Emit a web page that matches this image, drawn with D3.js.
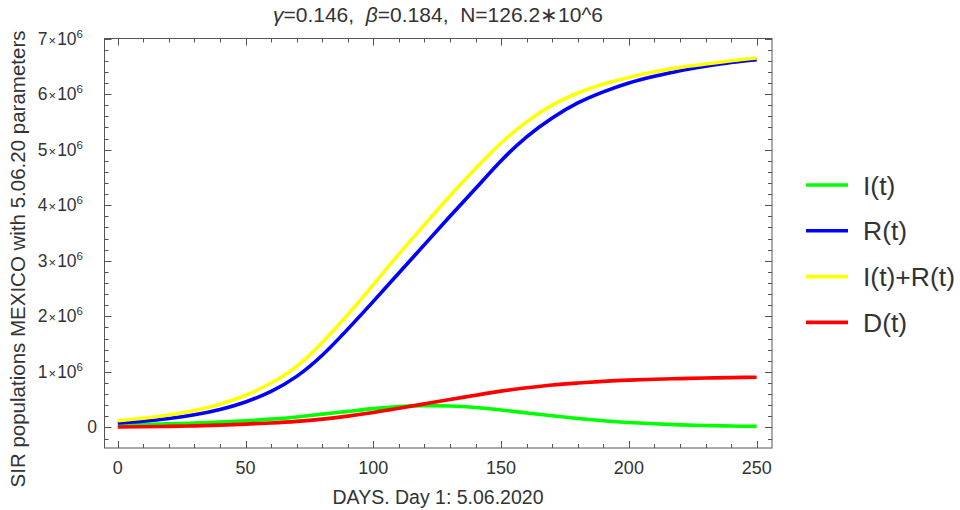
<!DOCTYPE html>
<html>
<head>
<meta charset="utf-8">
<script src="https://cdn.jsdelivr.net/npm/d3@7"></script>
<style>
  html, body { margin: 0; padding: 0; background: #fff; }
  svg { display: block; }
  text { font-family: "Liberation Sans", Arial, sans-serif; fill: #333; }
</style>
</head>
<body>
<svg id="chart" width="960" height="510"></svg>
<script>
// Days sampled every 10 days
const days = [0,10,20,30,40,50,60,70,80,90,100,110,120,130,140,150,160,170,180,190,200,210,220,230,240,250];

// Infected I(t), in millions
const infected = [0.045,0.055,0.066,0.08,0.097,0.12,0.15,0.19,0.24,0.29,0.34,0.375,0.393,0.387,0.36,0.315,0.262,0.21,0.163,0.122,0.09,0.066,0.048,0.035,0.026,0.02];
// Recovered R(t), in millions
const recovered = [0.08,0.113,0.161,0.229,0.325,0.46,0.65,0.92,1.30,1.77,2.27,2.78,3.29,3.80,4.30,4.80,5.23,5.57,5.84,6.04,6.20,6.32,6.42,6.50,6.57,6.62];
// I(t)+R(t), in millions
const infPlusRec = [0.12,0.165,0.225,0.305,0.42,0.58,0.80,1.10,1.53,2.03,2.57,3.12,3.65,4.17,4.66,5.12,5.50,5.80,6.02,6.18,6.30,6.40,6.48,6.54,6.60,6.65];
// Deaths D(t), in millions
const deaths = [0.008,0.013,0.02,0.03,0.043,0.06,0.082,0.11,0.15,0.205,0.27,0.345,0.425,0.505,0.58,0.655,0.715,0.765,0.80,0.83,0.852,0.868,0.88,0.89,0.898,0.905];

const seriesNames = ["I(t)", "R(t)", "I(t)+R(t)", "D(t)"];
const seriesColors = ["#00ff00", "#0000ff", "#ffff00", "#ff0000"];
const seriesValues = [infected, recovered, infPlusRec, deaths];

const xMajorTicks = [0, 50, 100, 150, 200, 250];
const yMajorTicks = [0, 1, 2, 3, 4, 5, 6, 7];

const titleText = ["γ", "=0.146,  ", "β", "=0.184,  N=126.2∗10^6"];
const xLabel = "DAYS. Day 1: 5.06.2020";
const yLabel = "SIR populations MEXICO with 5.06.20 parameters";

const svg = d3.select("#chart");
const frameL = 104.5, frameR = 772, frameT = 38.5, frameB = 448;

const x = d3.scaleLinear().domain([-5.2, 256]).range([frameL, frameR]);
const y = d3.scaleLinear().domain([-0.369, 7]).range([frameB, frameT]);

const frameColor = "#555";

// Curves
const line = d3.line()
  .x((d, i) => x(days[i]))
  .y(d => y(d))
  .curve(d3.curveNatural);

const plot = svg.append("g");
seriesValues.forEach((vals, k) => {
  plot.append("path")
    .datum(vals)
    .attr("d", line)
    .attr("fill", "none")
    .attr("stroke", seriesColors[k])
    .attr("stroke-width", 3.6)
    .attr("stroke-linejoin", "round");
});

// Frame
svg.append("rect")
  .attr("x", frameL).attr("y", frameT)
  .attr("width", frameR - frameL).attr("height", frameB - frameT)
  .attr("fill", "none").attr("stroke", frameColor).attr("stroke-width", 1);

// Ticks on all four sides, pointing inward
const xMinor = d3.range(0, 251, 10);
const yMinor = d3.range(-0.2, 7.01, 0.2).map(v => Math.round(v * 10) / 10);
const ticks = svg.append("g").attr("stroke", frameColor).attr("stroke-width", 1);
xMinor.forEach(t => {
  const len = xMajorTicks.includes(t) ? 7 : 4;
  const px = Math.round(x(t)) + 0.5;
  ticks.append("line").attr("x1", px).attr("x2", px).attr("y1", frameB).attr("y2", frameB - len);
  ticks.append("line").attr("x1", px).attr("x2", px).attr("y1", frameT).attr("y2", frameT + len);
});
yMinor.forEach(t => {
  const len = yMajorTicks.includes(t) ? 7 : 4;
  const py = Math.round(y(t)) + 0.5;
  ticks.append("line").attr("x1", frameL).attr("x2", frameL + len).attr("y1", py).attr("y2", py);
  ticks.append("line").attr("x1", frameR).attr("x2", frameR - len).attr("y1", py).attr("y2", py);
});

// X tick labels
svg.append("g").selectAll("text").data(xMajorTicks).join("text")
  .attr("x", d => x(d)).attr("y", 474)
  .attr("text-anchor", "middle")
  .attr("font-size", 18)
  .text(d => d);

// Y tick labels: n×10^6
const yl = svg.append("g");
yMajorTicks.forEach(t => {
  const t0 = yl.append("text")
    .attr("y", y(t) + 6)
    .attr("text-anchor", "end")
    .attr("font-size", 17.5);
  if (t === 0) { t0.attr("x", 97).text("0"); return; }
  t0.attr("x", 83);
  t0.append("tspan").text(t);
  t0.append("tspan").attr("font-size", 13).attr("dx", 1).text("×");
  t0.append("tspan").attr("dx", 1).text("10");
  t0.append("tspan").attr("font-size", 11.5).attr("dy", -7).text("6");
});

// Title
const title = svg.append("text")
  .attr("x", 438).attr("y", 22)
  .attr("text-anchor", "middle")
  .attr("font-size", 21)
  .style("white-space", "pre");
titleText.forEach((s, i) => {
  const ts = title.append("tspan").text(s);
  if (i % 2 === 0) ts.attr("font-style", "italic");
});

// Axis labels
svg.append("text")
  .attr("x", 438).attr("y", 504)
  .attr("text-anchor", "middle")
  .attr("font-size", 19.5)
  .text(xLabel);

svg.append("text")
  .attr("transform", "translate(25,259) rotate(-90)")
  .attr("text-anchor", "middle")
  .attr("font-size", 20.5)
  .text(yLabel);

// Legend
const legend = svg.append("g");
seriesNames.forEach((name, k) => {
  const ly = 185 + k * 45.8;
  legend.append("line")
    .attr("x1", 806).attr("x2", 848).attr("y1", ly).attr("y2", ly)
    .attr("stroke", seriesColors[k]).attr("stroke-width", 3.6);
  legend.append("text")
    .attr("x", 863).attr("y", ly + 9.5)
    .attr("font-size", 26.5)
    .text(name);
});
</script>
</body>
</html>
